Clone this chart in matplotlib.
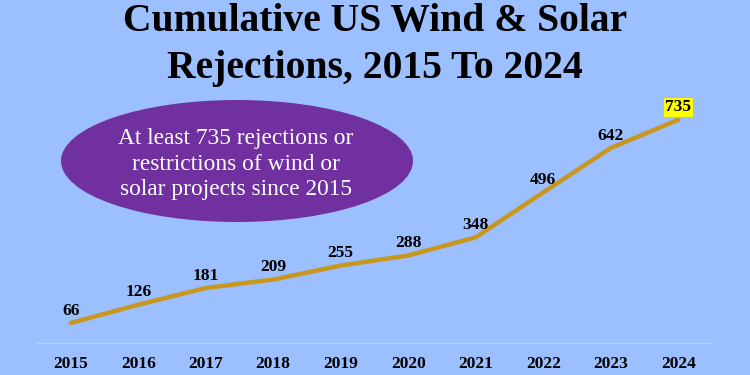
import matplotlib
matplotlib.use('Agg')
import matplotlib.pyplot as plt
from matplotlib.patches import Ellipse

years = ['2015', '2016', '2017', '2018', '2019', '2020', '2021', '2022', '2023', '2024']
rejections = [66, 126, 181, 209, 255, 288, 348, 496, 642, 735]

bg = '#9BBFFF'
line_col = '#C9961E'
serif = ['Liberation Serif', 'DejaVu Serif']

fig = plt.figure(figsize=(7.5, 3.75), dpi=100, facecolor=bg)
ax = fig.add_axes([37 / 750, 32 / 375, 675 / 750, 243 / 375])
ax.set_facecolor(bg)

x = range(len(years))
ax.plot(x, rejections, color=line_col, lw=3.2, solid_capstyle='round', solid_joinstyle='round')
ax.set_xlim(-0.5, len(years) - 0.5)
ax.set_ylim(0, 800)

# value labels, last one highlighted in yellow
for i, v in enumerate(rejections):
    box = None
    if i == len(rejections) - 1:
        box = dict(facecolor='#FFFF00', edgecolor='none', pad=1.0)
    ax.annotate(str(v), (i, v), xytext=(0, 6), textcoords='offset points',
                ha='center', va='baseline', fontsize=12.5, fontweight='bold',
                family=serif, color='black', bbox=box)

for s in ['top', 'right', 'left']:
    ax.spines[s].set_visible(False)
ax.spines['bottom'].set_color('#B9D1FF')
ax.spines['bottom'].set_linewidth(1)
ax.set_yticks([])
ax.set_xticks(list(x))
ax.set_xticklabels(years, fontsize=12.5, fontweight='bold', family=serif)
ax.tick_params(axis='x', length=0, pad=9)

fig.text(0.5, 1 - 31 / 375, 'Cumulative US Wind & Solar', ha='center', va='baseline',
         fontsize=28.5, fontweight='bold', family=serif)
fig.text(0.5, 1 - 78 / 375, 'Rejections, 2015 To 2024', ha='center', va='baseline',
         fontsize=28.5, fontweight='bold', family=serif)

ell = Ellipse((237 / 750, 1 - 161 / 375), 352 / 750, 122 / 375,
              transform=fig.transFigure, facecolor='#7030A0', edgecolor='none')
fig.patches.append(ell)
fig.text(236 / 750, 1 - 164 / 375,
         'At least 735 rejections or\nrestrictions of wind or\nsolar projects since 2015',
         ha='center', va='center', fontsize=16.8, color='white', family=serif,
         linespacing=1.3)

fig.savefig('out.png', dpi=100, facecolor=bg)
